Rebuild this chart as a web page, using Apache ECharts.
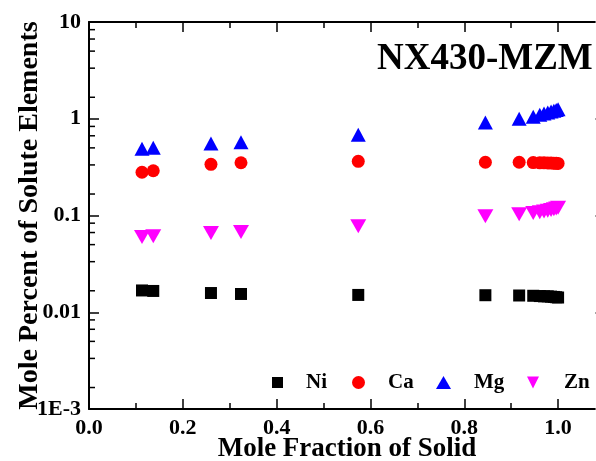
<!DOCTYPE html>
<html>
<head>
<meta charset="utf-8">
<script src="https://cdn.jsdelivr.net/npm/echarts@6/dist/echarts.min.js"></script>
<style>
  html, body { margin: 0; padding: 0; background: #fff; }
  #chart { width: 596px; height: 461px; }
</style>
</head>
<body>
<div id="chart"></div>
<script>
// Solute content in the remaining liquid vs. fraction solidified (NX430-MZM)
const solidFraction = [0.113, 0.137, 0.260, 0.324, 0.574, 0.845, 0.917, 0.947, 0.961, 0.970, 0.978, 0.985, 0.991, 0.996, 1.000];
const ni = [0.0168, 0.0166, 0.0158, 0.01545, 0.0151, 0.0150, 0.0149, 0.0148, 0.0147, 0.0146, 0.0146, 0.0145, 0.0144, 0.0143, 0.0142];
const ca = [0.280, 0.290, 0.338, 0.351, 0.363, 0.355, 0.355, 0.352, 0.350, 0.350, 0.349, 0.348, 0.347, 0.346, 0.345];
const mg = [0.49, 0.50, 0.555, 0.571, 0.682, 0.914, 1.00, 1.05, 1.10, 1.13, 1.16, 1.19, 1.21, 1.23, 1.25];
const zn = [0.060, 0.061, 0.066, 0.0675, 0.0776, 0.098, 0.103, 0.106, 0.108, 0.110, 0.112, 0.114, 0.116, 0.118, 0.120];

const xTickLabels = ['0.0', '0.2', '0.4', '0.6', '0.8', '1.0'];
const yTickLabels = ['1E-3', '0.01', '0.1', '1', '10'];
// minor ticks on the log axis: five linear steps inside each decade
const minorFactors = [1.667, 3.333, 5, 6.667, 8.333];
const minorDecades = [0.001, 0.01, 0.1, 1];

const FONT = 'Liberation Serif';
const BLACK = '#000';

const pairs = ys => solidFraction.map((x, i) => [x, ys[i]]);
const minorTicks = [];
minorDecades.forEach(d => minorFactors.forEach(f => minorTicks.push([0, d * f])));

function xAxisDef(position, interval, tickLen, withLine, withLabels) {
  return {
    type: 'value', position, min: 0, max: 1.1, interval, gridIndex: 0,
    axisLine: { show: withLine, onZero: false, lineStyle: { color: BLACK, width: 2 } },
    axisTick: { show: true, inside: true, length: tickLen, lineStyle: { color: BLACK, width: 1.5 } },
    axisLabel: withLabels ? {
      show: true, margin: 8, color: BLACK, fontFamily: FONT, fontWeight: 'bold', fontSize: 22,
      formatter: v => {
        const i = Math.round(v / 0.2);
        return (Math.abs(v - i * 0.2) < 1e-6 && i < xTickLabels.length) ? xTickLabels[i] : '';
      }
    } : { show: false },
    splitLine: { show: false },
    minorTick: { show: false }
  };
}

function legendDef(name, icon, left, w, h) {
  return {
    data: [{ name, icon }],
    left, top: 372, padding: 0, itemWidth: w, itemHeight: h, selectedMode: false,
    textStyle: { color: BLACK, fontFamily: FONT, fontWeight: 'bold', fontSize: 21, padding: [0, 0, 0, 18] }
  };
}

const downTriangle = 'path://M0,0L2,0L1,2Z';
const solid = c => ({ color: c, opacity: 1 });

const chart = echarts.init(document.getElementById('chart'), null, { renderer: 'canvas' });
chart.setOption({
  animation: false,
  backgroundColor: '#fff',
  title: {
    text: 'NX430-MZM', left: 377, top: 41, padding: 0,
    textStyle: { color: BLACK, fontFamily: FONT, fontWeight: 'bold', fontSize: 37 }
  },
  legend: [
    legendDef('Ni', 'rect', 272, 11, 11),
    legendDef('Ca', 'circle', 352, 13, 13),
    legendDef('Mg', 'triangle', 436, 15, 13),
    legendDef('Zn', downTriangle, 527, 16, 12)
  ],
  grid: { left: 89, top: 22, width: 516, height: 387, containLabel: false, outerBoundsMode: 'none' },
  xAxis: [
    Object.assign(xAxisDef('bottom', 0.2, 10, true, true), {
      name: 'Mole Fraction of Solid', nameLocation: 'middle', nameGap: 27, nameMoveOverlap: false,
      nameTextStyle: { color: BLACK, fontFamily: FONT, fontWeight: 'bold', fontSize: 27, verticalAlign: 'top' }
    }),
    xAxisDef('bottom', 0.1, 6, false, false),
    xAxisDef('top', 0.2, 10, true, false),
    xAxisDef('top', 0.1, 6, false, false)
  ],
  yAxis: [
    {
      type: 'log', logBase: 10, min: 0.001, max: 10, position: 'left',
      name: 'Mole Percent of Solute Elements', nameLocation: 'middle', nameGap: 45, nameMoveOverlap: false,
      nameTextStyle: { color: BLACK, fontFamily: FONT, fontWeight: 'bold', fontSize: 28 },
      axisLine: { show: true, onZero: false, lineStyle: { color: BLACK, width: 2 } },
      axisTick: { show: true, inside: true, length: 10, lineStyle: { color: BLACK, width: 1.5 } },
      axisLabel: {
        margin: 8, color: BLACK, fontFamily: FONT, fontWeight: 'bold', fontSize: 22,
        formatter: v => yTickLabels[Math.round(Math.log10(v)) + 3] || ''
      },
      splitLine: { show: false }
    },
    {
      type: 'log', logBase: 10, min: 0.001, max: 10, position: 'right',
      axisLine: { show: true, onZero: false, lineStyle: { color: BLACK, width: 2 } },
      axisTick: { show: true, inside: true, length: 10, lineStyle: { color: '#888', width: 1.5 } },
      axisLabel: { show: false },
      splitLine: { show: false }
    }
  ],
  series: [
    {
      name: 'minor', type: 'custom', xAxisIndex: 0, yAxisIndex: 0, silent: true, clip: false, z: 1,
      data: minorTicks,
      renderItem: (params, api) => {
        const y = api.coord([0, api.value(1)])[1];
        const cs = params.coordSys;
        const style = { stroke: BLACK, lineWidth: 1.5 };
        return {
          type: 'group', children: [
            { type: 'line', shape: { x1: cs.x, y1: y, x2: cs.x + 6, y2: y }, style },
            { type: 'line', shape: { x1: cs.x + cs.width, y1: y, x2: cs.x + cs.width - 6, y2: y }, style }
          ]
        };
      }
    },
    { name: 'Ni', type: 'scatter', symbol: 'rect', symbolSize: 12, itemStyle: solid('#000000'), data: pairs(ni) },
    { name: 'Ca', type: 'scatter', symbol: 'circle', symbolSize: 13, itemStyle: solid('#ff0000'), data: pairs(ca) },
    { name: 'Mg', type: 'scatter', symbol: 'triangle', symbolSize: [15, 14], itemStyle: solid('#0000ff'), data: pairs(mg) },
    { name: 'Zn', type: 'scatter', symbol: downTriangle, symbolKeepAspect: false, symbolSize: [16, 14], itemStyle: solid('#ff00ff'), data: pairs(zn) }
  ]
});
</script>
</body>
</html>
